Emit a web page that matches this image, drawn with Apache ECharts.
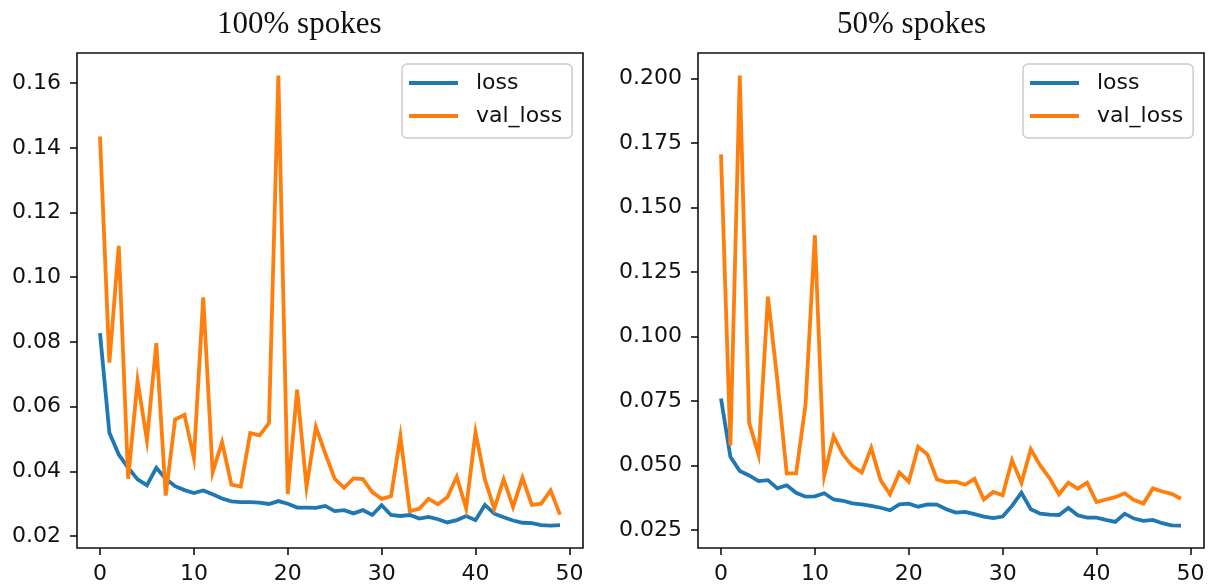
<!DOCTYPE html>
<html>
<head>
<meta charset="utf-8">
<script src="https://cdn.jsdelivr.net/npm/echarts@6/dist/echarts.min.js"></script>
<style>
  html, body { margin: 0; padding: 0; background: #fff; }
  #chart { width: 1212px; height: 588px; }
</style>
</head>
<body>
<div id="chart"></div>
<script>
// Training history: loss and validation loss per epoch, two spoke settings
const epochs = [0,1,2,3,4,5,6,7,8,9,10,11,12,13,14,15,16,17,18,19,20,21,22,23,24,
                25,26,27,28,29,30,31,32,33,34,35,36,37,38,39,40,41,42,43,44,45,46,47,48,49];

const titles = ['100% spokes', '50% spokes'];
const seriesNames = ['loss', 'val_loss'];

const loss100 = [0.0827,0.0519,0.0452,0.0411,0.0375,0.0357,0.0411,0.0377,0.0354,0.0342,
                 0.0333,0.0341,0.0329,0.0316,0.0307,0.0305,0.0305,0.0303,0.0299,0.0308,
                 0.0300,0.0288,0.0288,0.0287,0.0293,0.0277,0.0280,0.0270,0.0280,0.0265,
                 0.0295,0.0265,0.0262,0.0265,0.0254,0.0259,0.0252,0.0242,0.0249,0.0262,
                 0.0249,0.0296,0.0269,0.0258,0.0248,0.0241,0.0240,0.0234,0.0232,0.0234];
const valLoss100 = [0.1435,0.0736,0.1097,0.0377,0.0680,0.0496,0.0796,0.0325,0.0560,0.0575,
                    0.0441,0.0938,0.0397,0.0490,0.0359,0.0353,0.0518,0.0511,0.0549,0.1623,
                    0.0330,0.0652,0.0352,0.0537,0.0455,0.0377,0.0349,0.0378,0.0376,0.0336,
                    0.0315,0.0323,0.0508,0.0277,0.0284,0.0315,0.0298,0.0320,0.0383,0.0286,
                    0.0520,0.0375,0.0284,0.0375,0.0290,0.0380,0.0296,0.0300,0.0341,0.0266];
const loss50 = [0.0759,0.0533,0.0478,0.0461,0.0439,0.0443,0.0411,0.0423,0.0394,0.0379,
                0.0380,0.0392,0.0368,0.0363,0.0353,0.0349,0.0343,0.0336,0.0326,0.0349,
                0.0352,0.0340,0.0349,0.0348,0.0330,0.0317,0.0320,0.0311,0.0302,0.0296,
                0.0302,0.0343,0.0394,0.0330,0.0313,0.0309,0.0308,0.0335,0.0307,0.0298,
                0.0298,0.0289,0.0281,0.0313,0.0294,0.0285,0.0289,0.0276,0.0268,0.0267];
const valLoss50 = [0.1705,0.0577,0.2011,0.0665,0.0542,0.1154,0.0830,0.0469,0.0469,0.0733,
                   0.1392,0.0461,0.0613,0.0542,0.0497,0.0472,0.0568,0.0443,0.0388,0.0472,
                   0.0437,0.0572,0.0542,0.0446,0.0435,0.0437,0.0425,0.0448,0.0368,0.0397,
                   0.0384,0.0520,0.0433,0.0562,0.0500,0.0451,0.0388,0.0433,0.0410,0.0433,
                   0.0358,0.0368,0.0377,0.0392,0.0366,0.0352,0.0411,0.0399,0.0390,0.0371];

const xTicks = [0, 10, 20, 30, 40, 50];
const yTicks100 = [0.02, 0.04, 0.06, 0.08, 0.10, 0.12, 0.14, 0.16];
const yTicks50 = [0.025, 0.050, 0.075, 0.100, 0.125, 0.150, 0.175, 0.200];

const BLUE = '#1f77b4';
const ORANGE = '#ff7f0e';
const INK = '#111';
const SANS = '"DejaVu Sans", sans-serif';
const SERIF = '"Liberation Serif", "Times New Roman", serif';

function pairs(values) {
  return epochs.map((e, i) => [e, values[i]]);
}

function xAxisFor(gridIndex) {
  return {
    type: 'value', gridIndex: gridIndex, min: -2.45, max: 51.45,
    axisLine: { show: false, onZero: false },
    splitLine: { show: false },
    axisTick: { show: true, customValues: xTicks, length: 7, inside: false,
                lineStyle: { color: INK, width: 1.6 } },
    axisLabel: { customValues: xTicks, margin: 15, color: INK,
                 fontFamily: SANS, fontSize: 22 }
  };
}

function yAxisFor(gridIndex, ticks, lo, hi, digits) {
  return {
    type: 'value', gridIndex: gridIndex, min: lo, max: hi,
    axisLine: { show: false, onZero: false },
    splitLine: { show: false },
    axisTick: { show: true, customValues: ticks, length: 7, inside: false,
                lineStyle: { color: INK, width: 1.6 } },
    axisLabel: { customValues: ticks, margin: 16, color: INK,
                 fontFamily: SANS, fontSize: 22,
                 formatter: v => v.toFixed(digits) }
  };
}

function lineSeries(name, color, gridIndex, values) {
  return {
    type: 'line', name: name, xAxisIndex: gridIndex, yAxisIndex: gridIndex,
    data: pairs(values), showSymbol: false, symbol: 'none', animation: false,
    lineStyle: { color: color, width: 3.8, join: 'miter' },
    itemStyle: { color: color }
  };
}

function legendAt(left) {
  return {
    left: left, top: 64, orient: 'vertical',
    data: seriesNames,
    icon: 'rect', itemWidth: 49, itemHeight: 3.8, itemGap: 11,
    backgroundColor: '#fff', borderColor: '#cccccc', borderWidth: 1.5, borderRadius: 5,
    padding: [8, 10, 11, 7],
    selectedMode: false,
    textStyle: { fontFamily: SANS, fontSize: 22, color: INK, lineHeight: 22,
                 padding: [0, 0, 0, 13] }
  };
}

function titleAt(text, left) {
  return {
    text: text, left: left, top: 9, padding: 0,
    textStyle: { fontFamily: SERIF, fontSize: 31, fontWeight: 'normal', color: INK }
  };
}

const chart = echarts.init(document.getElementById('chart'), null, { renderer: 'canvas' });

chart.setOption({
  backgroundColor: '#fff',
  animation: false,
  title: [titleAt(titles[0], 217), titleAt(titles[1], 837)],
  legend: [legendAt(402), legendAt(1023)],
  grid: [
    { left: 77, top: 53, width: 506, height: 495, show: true,
      borderColor: INK, borderWidth: 1.6, backgroundColor: 'transparent' },
    { left: 698, top: 53, width: 506, height: 495, show: true,
      borderColor: INK, borderWidth: 1.6, backgroundColor: 'transparent' }
  ],
  xAxis: [xAxisFor(0), xAxisFor(1)],
  yAxis: [
    yAxisFor(0, yTicks100, 0.0163, 0.1693, 2),
    yAxisFor(1, yTicks50, 0.0180, 0.2098, 3)
  ],
  series: [
    lineSeries(seriesNames[0], BLUE, 0, loss100),
    lineSeries(seriesNames[1], ORANGE, 0, valLoss100),
    lineSeries(seriesNames[0], BLUE, 1, loss50),
    lineSeries(seriesNames[1], ORANGE, 1, valLoss50)
  ]
});
</script>
</body>
</html>
